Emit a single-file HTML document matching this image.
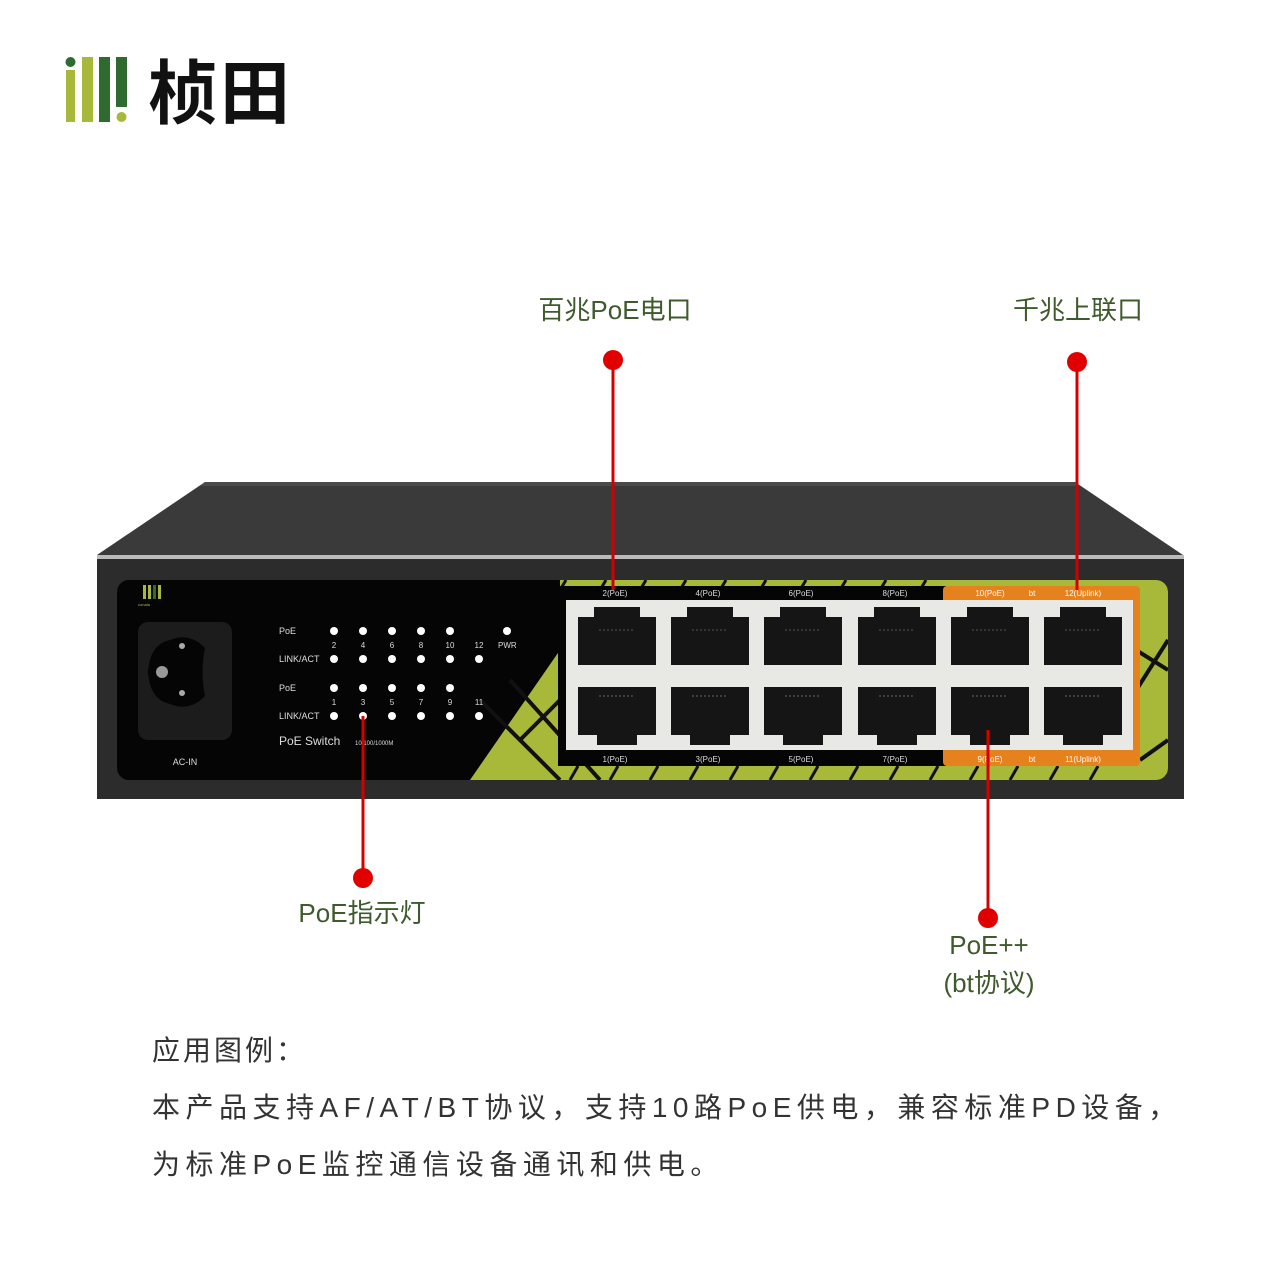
<!DOCTYPE html>
<html><head><meta charset="utf-8"><style>
html,body{margin:0;padding:0;background:#fff;}
svg{display:block}
.cn{font-family:"Liberation Sans","Noto Sans CJK SC",sans-serif;}
</style></head><body>
<svg width="1280" height="1280" viewBox="0 0 1280 1280" xmlns="http://www.w3.org/2000/svg" class="cn">
<defs>
<clipPath id="gc"><rect x="117" y="580" width="1051" height="200" rx="12"/></clipPath>
<g id="pt" fill="#151515"><rect x="-39" y="17" width="78" height="48"/><rect x="-23" y="7" width="46" height="12"/><line x1="-18" y1="30" x2="18" y2="30" stroke="#555" stroke-dasharray="2,2"/></g>
<g id="pb" fill="#151515"><rect x="-39" y="0" width="78" height="48"/><rect x="-20" y="46" width="40" height="12"/><line x1="-18" y1="9" x2="18" y2="9" stroke="#666" stroke-dasharray="2,2"/></g>
</defs>
<!-- logo -->
<rect x="66" y="70" width="9" height="52" fill="#a8b83a"/>
<circle cx="70.5" cy="62" r="5" fill="#2f6b2f"/>
<rect x="82" y="57" width="11" height="65" fill="#a8b83a"/>
<rect x="99" y="57" width="11" height="65" fill="#2f6b2f"/>
<rect x="116" y="57" width="11" height="50" fill="#2f6b2f"/>
<circle cx="121.5" cy="117" r="5" fill="#a8b83a"/>
<text x="148" y="118" font-size="70" font-weight="bold" fill="#111" letter-spacing="2">桢田</text>

<!-- switch top -->
<polygon points="97,555 205,482 1075,482 1183,555" fill="#3a3a3a"/>
<polygon points="205,482 1075,482 1080,486 200,486" fill="#4a4a4a"/>
<rect x="97" y="555" width="1087" height="4" fill="#bbb"/>
<rect x="97" y="559" width="1087" height="240" fill="#2c2c2c"/>
<rect x="117" y="580" width="1051" height="200" rx="12" fill="#050505"/>
<g clip-path="url(#gc)">
<polygon points="470,780 560,650 560,580 1168,580 1168,780" fill="#a8b93a"/>
<g stroke="#111" stroke-width="4" fill="none">
<line x1="480" y1="700" x2="560" y2="780"/>
<line x1="510" y1="680" x2="600" y2="780"/>
<line x1="520" y1="740" x2="560" y2="700"/>
<line x1="1130" y1="700" x2="1168" y2="640"/>
<line x1="1140" y1="760" x2="1168" y2="740"/>
<line x1="1120" y1="640" x2="1168" y2="670"/>
</g>
<g stroke="#111" stroke-width="3">
<line x1="560" y1="590" x2="566" y2="580"/><line x1="600" y1="590" x2="606" y2="580"/><line x1="640" y1="590" x2="646" y2="580"/><line x1="680" y1="590" x2="686" y2="580"/><line x1="720" y1="590" x2="726" y2="580"/><line x1="760" y1="590" x2="766" y2="580"/><line x1="800" y1="590" x2="806" y2="580"/><line x1="840" y1="590" x2="846" y2="580"/><line x1="880" y1="590" x2="886" y2="580"/><line x1="920" y1="590" x2="926" y2="580"/>
<line x1="570" y1="780" x2="578" y2="766"/><line x1="610" y1="780" x2="618" y2="766"/><line x1="650" y1="780" x2="658" y2="766"/><line x1="690" y1="780" x2="698" y2="766"/><line x1="730" y1="780" x2="738" y2="766"/><line x1="770" y1="780" x2="778" y2="766"/><line x1="810" y1="780" x2="818" y2="766"/><line x1="850" y1="780" x2="858" y2="766"/><line x1="890" y1="780" x2="898" y2="766"/><line x1="930" y1="780" x2="938" y2="766"/><line x1="970" y1="780" x2="978" y2="766"/><line x1="1010" y1="780" x2="1018" y2="766"/><line x1="1050" y1="780" x2="1058" y2="766"/><line x1="1090" y1="780" x2="1098" y2="766"/>
</g>
</g>
<rect x="558" y="586" width="390" height="180" fill="#050505"/>
<rect x="943" y="586" width="197" height="180" rx="4" fill="#e5821e"/>
<rect x="566" y="600" width="567" height="150" fill="#e8e8e4"/>
<g font-size="8" fill="#ddd" text-anchor="middle" font-family="Liberation Sans,sans-serif">
<text x="615" y="596">2(PoE)</text><text x="708" y="596">4(PoE)</text><text x="801" y="596">6(PoE)</text><text x="895" y="596">8(PoE)</text>
<text x="990" y="596" fill="#fff">10(PoE)</text><text x="1032" y="596" fill="#fff">bt</text><text x="1083" y="596" fill="#fff">12(Uplink)</text>
<text x="615" y="762">1(PoE)</text><text x="708" y="762">3(PoE)</text><text x="801" y="762">5(PoE)</text><text x="895" y="762">7(PoE)</text>
<text x="990" y="762" fill="#fff">9(PoE)</text><text x="1032" y="762" fill="#fff">bt</text><text x="1083" y="762" fill="#fff">11(Uplink)</text>
</g>
<use href="#pt" transform="translate(617,600)"/><use href="#pt" transform="translate(710,600)"/><use href="#pt" transform="translate(803,600)"/><use href="#pt" transform="translate(897,600)"/><use href="#pt" transform="translate(990,600)"/><use href="#pt" transform="translate(1083,600)"/>
<use href="#pb" transform="translate(617,687)"/><use href="#pb" transform="translate(710,687)"/><use href="#pb" transform="translate(803,687)"/><use href="#pb" transform="translate(897,687)"/><use href="#pb" transform="translate(990,687)"/><use href="#pb" transform="translate(1083,687)"/>

<rect x="143" y="585" width="3" height="14" fill="#a8b83a"/><rect x="148" y="585" width="3" height="14" fill="#a8b83a"/><rect x="153" y="585" width="3" height="14" fill="#2f6b2f"/><rect x="158" y="585" width="3" height="14" fill="#a8b83a"/>
<text x="138" y="606" font-size="4" fill="#a8b83a">conata</text>
<rect x="138" y="622" width="94" height="118" rx="10" fill="#1c1c1c"/>
<path d="M170,640 Q190,632 205,648 Q200,672 205,696 Q190,712 170,704 Q150,700 148,672 Q150,644 170,640Z" fill="#050505"/>
<circle cx="162" cy="672" r="6" fill="#999"/><circle cx="182" cy="646" r="3" fill="#aaa"/><circle cx="182" cy="693" r="3" fill="#aaa"/>
<text x="185" y="765" font-size="9" fill="#ddd" text-anchor="middle" font-family="Liberation Sans,sans-serif">AC-IN</text>
<g font-family="Liberation Sans,sans-serif" font-size="9" fill="#ddd">
<text x="279" y="634">PoE</text><text x="279" y="662">LINK/ACT</text><text x="279" y="691">PoE</text><text x="279" y="719">LINK/ACT</text>
<text x="279" y="745" font-size="12">PoE Switch</text><text x="355" y="745" font-size="6">10/100/1000M</text>
<text x="498" y="648" font-size="8">PWR</text>
<g text-anchor="middle" font-size="8"><text x="334" y="648">2</text><text x="363" y="648">4</text><text x="392" y="648">6</text><text x="421" y="648">8</text><text x="450" y="648">10</text><text x="479" y="648">12</text>
<text x="334" y="705">1</text><text x="363" y="705">3</text><text x="392" y="705">5</text><text x="421" y="705">7</text><text x="450" y="705">9</text><text x="479" y="705">11</text></g>
</g>
<g fill="#fff">
<circle cx="334" cy="631" r="4"/><circle cx="363" cy="631" r="4"/><circle cx="392" cy="631" r="4"/><circle cx="421" cy="631" r="4"/><circle cx="450" cy="631" r="4"/><circle cx="507" cy="631" r="4"/>
<circle cx="334" cy="659" r="4"/><circle cx="363" cy="659" r="4"/><circle cx="392" cy="659" r="4"/><circle cx="421" cy="659" r="4"/><circle cx="450" cy="659" r="4"/><circle cx="479" cy="659" r="4"/>
<circle cx="334" cy="688" r="4"/><circle cx="363" cy="688" r="4"/><circle cx="392" cy="688" r="4"/><circle cx="421" cy="688" r="4"/><circle cx="450" cy="688" r="4"/>
<circle cx="334" cy="716" r="4"/><circle cx="363" cy="716" r="4"/><circle cx="392" cy="716" r="4"/><circle cx="421" cy="716" r="4"/><circle cx="450" cy="716" r="4"/><circle cx="479" cy="716" r="4"/>
</g>
<g stroke="#d40000" stroke-width="3">
<line x1="613" y1="360" x2="613" y2="590"/><line x1="1077" y1="362" x2="1077" y2="590"/>
<line x1="363" y1="716" x2="363" y2="878"/><line x1="988" y1="730" x2="988" y2="918"/>
</g>
<g fill="#e00000"><circle cx="613" cy="360" r="10"/><circle cx="1077" cy="362" r="10"/><circle cx="363" cy="878" r="10"/><circle cx="988" cy="918" r="10"/></g>
<g font-size="26" fill="#3f5a2c" text-anchor="middle">
<text x="615" y="319">百兆PoE电口</text><text x="1078" y="319">千兆上联口</text>
<text x="362" y="922">PoE指示灯</text><text x="989" y="954">PoE++</text><text x="989" y="992">(bt协议)</text>
</g>
<g font-size="28" fill="#333" letter-spacing="5.5">
<text x="152" y="1060" letter-spacing="3">应用图例：</text>
<text x="152" y="1117">本产品支持AF/AT/BT协议，支持10路PoE供电，兼容标准PD设备，</text>
<text x="152" y="1174">为标准PoE监控通信设备通讯和供电。</text>
</g>
</svg>
</body></html>
